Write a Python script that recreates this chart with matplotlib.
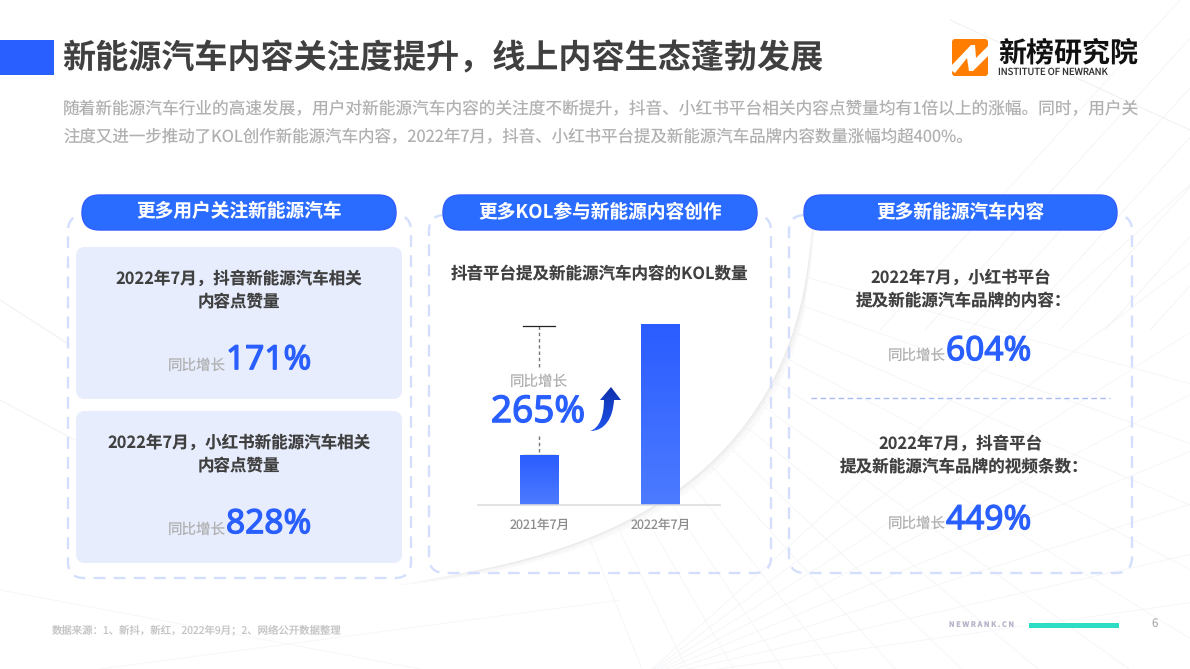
import matplotlib
matplotlib.use('Agg')
import matplotlib.pyplot as plt
import numpy as np
import matplotlib.patheffects as pe
from matplotlib.colors import LinearSegmentedColormap
from matplotlib.patches import FancyBboxPatch, PathPatch, Rectangle
from matplotlib.path import Path

plt.rcParams['font.family'] = ['Noto Sans CJK SC', 'DejaVu Sans']
plt.rcParams['text.hinting'] = 'none'

W, H = 1190, 669

# chart data
bar_labels = ['2021年7月', '2022年7月']
bar_values = [100, 365]
bar_growth = '265%'
card_titles = [['2022年7月，抖音新能源汽车相关', '内容点赞量'],
               ['2022年7月，小红书新能源汽车相关', '内容点赞量']]
card_values = ['171%', '828%']
right_titles = [['2022年7月，小红书平台', '提及新能源汽车品牌的内容：'],
                ['2022年7月，抖音平台', '提及新能源汽车品牌的视频条数：']]
right_values = ['604%', '449%']
pill_titles = ['更多用户关注新能源汽车', '更多KOL参与新能源内容创作', '更多新能源汽车内容']

title = '新能源汽车内容关注度提升，线上内容生态蓬勃发展'
intro = ['随着新能源汽车行业的高速发展，用户对新能源汽车内容的关注度不断提升，抖音、小红书平台相关内容点赞量均有1倍以上的涨幅。同时，用户关',
         '注度又进一步推动了KOL创作新能源汽车内容，2022年7月，抖音、小红书平台提及新能源汽车品牌内容数量涨幅均超400%。']
source = '数据来源：1、新抖，新红，2022年9月；2、网络公开数据整理'

BLUE = '#2a5fff'
DARK = '#404040'
LIGHT = '#b0b0b0'
NUM_FONT = ['Noto Sans', 'Noto Sans CJK SC']


def px(size):
    # font size given in pixels of the 100 dpi picture
    return size * 72 / 100


fig = plt.figure(figsize=(W / 100, H / 100), dpi=100, facecolor='white')
ax = fig.add_axes([0, 0, 1, 1])
ax.set_xlim(0, W)
ax.set_ylim(H, 0)
ax.axis('off')


def text(x, y, s, size, color=DARK, weight='normal', ha='center', **kw):
    # CJK glyphs sit a little high with va=center
    return ax.text(x, y + 1.5, s, fontsize=px(size), color=color, fontweight=weight,
                   ha=ha, va='center', **kw)


def number(x, y, s, size, ha='left'):
    # regular digits with a thin stroke, the font has no medium weight here
    t = text(x, y, s, size, color=BLUE, ha=ha, family=NUM_FONT)
    t.set_path_effects([pe.withStroke(linewidth=0.9, foreground=BLUE)])
    return t


def box(x0, y0, x1, y1, r, **kw):
    p = FancyBboxPatch((x0 + r, y0 + r), x1 - x0 - 2 * r, y1 - y0 - 2 * r,
                       boxstyle='round,pad=%f,rounding_size=%f' % (r, r), **kw)
    ax.add_patch(p)
    return p


def background():
    # faint wire mesh behind the page
    p0, p1, p2 = np.array([812, 222.]), np.array([800, 510.]), np.array([470, 572.])
    for t in np.linspace(0.05, 1, 60):
        pt = (1 - t) ** 2 * p0 + 2 * t * (1 - t) * p1 + t ** 2 * p2
        d = 2 * (1 - t) * (p1 - p0) + 2 * t * (p2 - p1)
        d = d / np.linalg.norm(d)
        ax.plot([pt[0] - d[0] * 45, pt[0] + d[0] * 70], [pt[1] - d[1] * 45, pt[1] + d[1] * 70],
                color='#ececec', lw=0.4, alpha=0.6, zorder=0)
    for t in np.linspace(0.1, 0.8, 14):
        pt = (1 - t) ** 2 * p0 + 2 * t * (1 - t) * p1 + t ** 2 * p2
        ang = np.radians(8 + 75 * t)
        ax.plot([pt[0], pt[0] + 700 * np.cos(ang)], [pt[1], pt[1] + 700 * np.sin(ang)],
                color='#f4f5f8', lw=0.6, zorder=0)
    for a in np.linspace(-42, -8, 8):
        r = np.radians(a)
        ax.plot([640, 640 + 800 * np.cos(r)], [680, 680 + 800 * np.sin(r)],
                color='#f4f5f8', lw=0.6, zorder=0)
    for x0 in np.arange(880, 1260, 45):
        ax.plot([x0, x0 + 300], [330, 0], color='#f3f3f3', lw=0.6, zorder=0)
    ax.plot([950, 1190], [20, 130], color='#f0f0f0', lw=0.7, zorder=0)
    ax.plot([0, 70], [300, 345], color='#f0f0f0', lw=0.7, zorder=0)
    ax.plot([0, 75], [400, 440], color='#f2f2f2', lw=0.7, zorder=0)
    ax.plot([100, 620], [669, 600], color='#f7f7f7', lw=0.7, zorder=0)
    ax.plot([0, 420], [590, 669], color='#f7f7f7', lw=0.7, zorder=0)


def header():
    ax.add_patch(Rectangle((0, 40), 54, 35, color=BLUE, lw=0))
    text(62, 57, title, 33.1, weight='bold', ha='left')
    text(63, 108, intro[0], 16.68, color=LIGHT, ha='left')
    text(63, 135.5, intro[1], 16.45, color=LIGHT, ha='left')
    # logo
    box(952, 39, 988, 76, 3, fc='#ff7d00', ec='none', zorder=3)
    n = Path([(952, 65), (971, 45), (975, 45), (976, 58), (988, 46), (988, 56), (973, 71), (969, 71),
              (967, 58), (955, 73), (952, 71)])
    ax.add_patch(PathPatch(n, fc='white', ec='none', zorder=4))
    text(998, 52, '新榜研究院', 28, color='#111111', weight='bold', ha='left')
    text(998, 71, 'INSTITUTE OF NEWRANK', 9.5, color='#333333', ha='left')


def panels():
    for (x0, y0, x1, y1) in [(68, 215, 411, 578), (429, 215, 771, 573), (789, 215, 1132, 573)]:
        box(x0, y0, x1, y1, 16, fc='none', ec='#d3dffc', lw=1.7, ls=(0, (5, 3.5)), zorder=2)
    for (x0, x1), s in zip([(82, 396), (443, 757), (804, 1117)], pill_titles):
        box(x0, 195, x1, 230, 17.5, fc='#2a6cff', ec='#2f5dff', lw=1, zorder=3)
        text((x0 + x1) / 2, 210.5, s, 18.7, color='white', weight='bold', zorder=4)


def growth(label_right, y_label, y_value, value):
    text(label_right, y_label, '同比增长', 14.5, color=LIGHT, ha='right')
    number(label_right, y_value, value, 33.5)


def left_cards():
    for (y0, y1), lines, v, yl, yv in zip([(247, 399), (411, 563)], card_titles, card_values,
                                          [364, 528], [359, 523]):
        box(76, y0, 402, y1, 9, fc='#e7edfd', ec='none', zorder=1)
        text(239, y0 + 30, lines[0], 16.5, weight='bold')
        text(239, y0 + 54, lines[1], 16.5, weight='bold')
        growth(226, yl, yv, v)


def right_block():
    for lines, v, y, yl, yv in zip(right_titles, right_values, [276, 442], [354, 522], [350, 519]):
        text(961, y, lines[0], 16.5, weight='bold')
        text(964, y + 24, lines[1], 16.6, weight='bold')
        growth(946, yl, yv, v)
    ax.plot([811, 1110], [397.5, 397.5], color='#a9bcf8', lw=1, ls=(0, (4, 2.5)), zorder=2)


def bars():
    text(599, 273, '抖音平台提及新能源汽车内容的KOL数量', 16.5, weight='bold')
    # bar axes placed over the page, baseline at y=504.5
    left, right, top, bottom = 478, 720, 324, 504.5
    bx = fig.add_axes([left / W, 1 - bottom / H, (right - left) / W, (bottom - top) / H])
    bx.patch.set_alpha(0)
    xpos = np.arange(len(bar_values))
    rects = bx.bar(xpos, bar_values, width=39 / 121, color=BLUE)
    cmap = LinearSegmentedColormap.from_list('bar', ['#2a5cff', '#4c7bff'])
    grad = np.linspace(0, 1, 128).reshape(-1, 1)
    for r in rects:
        im = bx.imshow(grad, cmap=cmap, aspect='auto', zorder=3,
                       extent=[r.get_x(), r.get_x() + r.get_width(), 0, r.get_height()])
        im.set_clip_path(r)
    bx.set_xlim((left - 539.5) / 121, (right - 539.5) / 121)
    bx.set_ylim(0, max(bar_values))
    bx.set_yticks([])
    bx.set_xticks(xpos, bar_labels, fontsize=px(12.6), color='#8c8c8c')
    bx.tick_params(axis='x', length=0, pad=11)
    for s in ['top', 'left', 'right']:
        bx.spines[s].set_visible(False)
    bx.spines['bottom'].set_color('#dddddd')
    bx.spines['bottom'].set_linewidth(1.2)

    # growth annotation between the two levels
    for y in [325.5, 455]:
        ax.plot([523, 555], [y, y], color='#222222', lw=0.9, zorder=5)
    ax.plot([539, 539], [326, 367], color='#777777', lw=1, ls=(0, (2.5, 2)), zorder=2)
    ax.plot([539, 539], [436, 455], color='#777777', lw=1, ls=(0, (2.5, 2)), zorder=2)
    text(539, 380, '同比增长', 14.5, color=LIGHT)
    number(538, 411, bar_growth, 37, ha='center')

    verts = [(590, 431), (600, 428), (604, 415), (604, 400), (600, 400), (611, 387), (621, 400), (614, 400),
             (613, 418), (605, 431), (590, 431)]
    codes = [Path.MOVETO, Path.CURVE4, Path.CURVE4, Path.CURVE4, Path.LINETO, Path.LINETO, Path.LINETO,
             Path.LINETO, Path.CURVE4, Path.CURVE4, Path.CURVE4]
    arrow = PathPatch(Path(verts, codes), fc='none', ec='none', zorder=4)
    ax.add_patch(arrow)
    cm2 = LinearSegmentedColormap.from_list('arrow', ['#0d2fa8', '#1f55f0'])
    im = ax.imshow(np.linspace(0, 1, 64).reshape(-1, 1), cmap=cm2, aspect='auto', zorder=4,
                   extent=[588, 622, 432, 386])
    im.set_clip_path(arrow)
    ax.set_xlim(0, W)
    ax.set_ylim(H, 0)


def footer():
    text(52, 628.5, source, 10.4, color='#c4c4c4', ha='left')
    text(949, 624, 'N E W R A N K . C N', 7.4, color='#b5b5c8', weight='bold', ha='left')
    ax.add_patch(Rectangle((1029, 623), 90, 5, color='#2cdcc5', lw=0))
    text(1155, 623, '6', 11.5, color='#b0b0b0')


background()
header()
panels()
left_cards()
bars()
right_block()
footer()

fig.savefig('out.png', dpi=100)
